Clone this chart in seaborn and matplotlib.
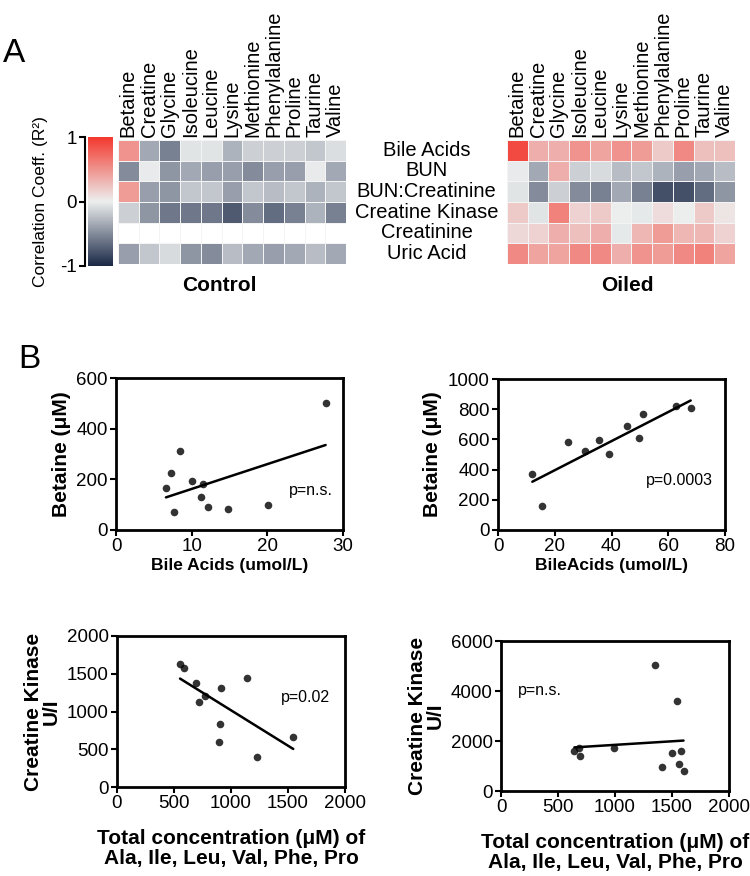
import numpy as np
import pandas as pd
import matplotlib
matplotlib.use('Agg')
import matplotlib.pyplot as plt
from matplotlib.colors import LinearSegmentedColormap
import seaborn as sns

# heatmap data (R values)
amino_acids = ['Betaine', 'Creatine', 'Glycine', 'Isoleucine', 'Leucine', 'Lysine',
               'Methionine', 'Phenylalanine', 'Proline', 'Taurine', 'Valine']
clinical = ['Bile Acids', 'BUN', 'BUN:Creatinine', 'Creatine Kinase', 'Creatinine', 'Uric Acid']

control_r = [
    [0.50, -0.35, -0.55, -0.05, -0.05, -0.30, -0.15, -0.15, -0.15, -0.20, -0.08],
    [-0.50, -0.02, -0.45, -0.35, -0.40, -0.40, -0.50, -0.40, -0.40, -0.02, -0.35],
    [0.45, -0.40, -0.45, -0.20, -0.20, -0.40, -0.20, -0.25, -0.20, -0.30, -0.20],
    [-0.15, -0.45, -0.60, -0.60, -0.60, -0.75, -0.50, -0.65, -0.55, -0.30, -0.55],
    [np.nan] * 11,
    [-0.40, -0.20, -0.10, -0.45, -0.50, -0.25, -0.35, -0.40, -0.35, -0.25, -0.35],
]
oiled_r = [
    [0.90, 0.35, 0.35, 0.50, 0.40, 0.50, 0.45, 0.20, 0.55, 0.25, 0.25],
    [-0.02, -0.35, 0.35, -0.15, -0.10, -0.25, -0.20, -0.30, -0.40, -0.35, -0.25],
    [-0.05, -0.50, -0.15, -0.50, -0.55, -0.35, -0.55, -0.80, -0.80, -0.65, -0.45],
    [0.20, -0.05, 0.60, 0.15, 0.20, 0.00, -0.03, 0.10, 0.00, 0.20, 0.05],
    [0.12, 0.15, 0.35, 0.25, 0.35, -0.03, 0.30, 0.45, 0.30, 0.30, 0.15],
    [0.55, 0.40, 0.40, 0.55, 0.55, 0.35, 0.50, 0.45, 0.55, 0.60, 0.40],
]

# scatter data
bile_control = [6.6, 7.3, 7.7, 8.4, 10.0, 11.5, 11.2, 12.2, 14.8, 20.1, 27.7]
betaine_control = [164, 224, 72, 313, 193, 180, 130, 92, 82, 99, 503]
bile_oiled = [12.1, 15.5, 24.7, 30.5, 35.6, 39.2, 45.6, 49.6, 51.2, 62.9, 67.9]
betaine_oiled = [369, 159, 582, 524, 597, 502, 686, 608, 770, 823, 805]
aa_total_control = [553, 591, 697, 717, 776, 908, 902, 896, 1136, 1224, 1546]
ck_control = [1634, 1572, 1382, 1126, 1205, 1311, 839, 592, 1444, 397, 667]
aa_total_oiled = [644, 685, 694, 994, 1353, 1408, 1504, 1548, 1563, 1583, 1601]
ck_oiled = [1600, 1720, 1400, 1720, 5053, 947, 1533, 3613, 1080, 1587, 787]

sns.set_style('white')
plt.rcParams['font.family'] = ['Liberation Sans', 'DejaVu Sans']
plt.rcParams.update({'text.color': 'black', 'axes.labelcolor': 'black',
                     'xtick.color': 'black', 'ytick.color': 'black'})

W, H = 750, 876
fig = plt.figure(figsize=(W / 100, H / 100), dpi=100)


def box(l, t, r, b):
    return [l / W, 1 - b / H, (r - l) / W, (b - t) / H]


cmap = LinearSegmentedColormap.from_list('rwn', ['#1b2947', '#eceeee', '#f3382e'])

ax_c = fig.add_axes(box(118, 140, 346, 264))
ax_o = fig.add_axes(box(507, 140, 735, 264))
cax = fig.add_axes(box(88, 137, 113, 266))

df_c = pd.DataFrame(control_r, index=clinical, columns=amino_acids)
df_o = pd.DataFrame(oiled_r, index=clinical, columns=amino_acids)

sns.heatmap(df_c, ax=ax_c, cmap=cmap, vmin=-1, vmax=1, cbar=True, cbar_ax=cax,
            linewidths=0.6, linecolor='#f4f4f4')
sns.heatmap(df_o, ax=ax_o, cmap=cmap, vmin=-1, vmax=1, cbar=False,
            linewidths=0.6, linecolor='#f4f4f4')

for ax in (ax_c, ax_o):
    ax.xaxis.tick_top()
    ax.set_xticklabels(amino_acids, rotation=90, fontsize=14.5)
    ax.tick_params(axis='x', length=0, pad=2)
    ax.set_xlabel('')
    ax.set_ylabel('')

ax_c.set_yticks([])
ax_o.set_yticklabels(clinical, rotation=0, ha='center', fontsize=14.5)
ax_o.tick_params(axis='y', length=0, pad=58)

# colorbar on the left
cb = ax_c.collections[0].colorbar
cb.outline.set_visible(False)
cax.yaxis.set_ticks_position('left')
cax.yaxis.set_label_position('left')
cax.spines['left'].set_visible(True)
cax.spines['left'].set_color('black')
cax.spines['left'].set_linewidth(1.5)
cax.spines['left'].set_position(('outward', 2))
cb.set_ticks([-1, 0, 1])
cb.set_ticklabels(['-1', '0', '1'])
cax.tick_params(axis='y', left=True, length=4, width=1.5, labelsize=13.5, pad=2)
cax.set_ylabel('Correlation Coeff. (R²)', fontsize=12.5, labelpad=9)

fig.text(219 / W, 1 - 285 / H, 'Control', fontsize=15, fontweight='bold', ha='center', va='center')
fig.text(627 / W, 1 - 285 / H, 'Oiled', fontsize=15, fontweight='bold', ha='center', va='center')
fig.text(14 / W, 1 - 54 / H, 'A', fontsize=24, ha='center', va='center')
fig.text(29 / W, 1 - 360 / H, 'B', fontsize=24, ha='center', va='center')

# scatter panels
ax1 = fig.add_axes(box(116, 378, 343, 530))
ax2 = fig.add_axes(box(498, 379, 725, 530))
ax3 = fig.add_axes(box(117, 636, 345, 787))
ax4 = fig.add_axes(box(501, 641, 729, 791))

panels = [
    (ax1, bile_control, betaine_control, (0, 30), [0, 10, 20, 30], (0, 600), [0, 200, 400, 600]),
    (ax2, bile_oiled, betaine_oiled, (0, 80), [0, 20, 40, 60, 80], (0, 1000), [0, 200, 400, 600, 800, 1000]),
    (ax3, aa_total_control, ck_control, (0, 2000), [0, 500, 1000, 1500, 2000], (0, 2000), [0, 500, 1000, 1500, 2000]),
    (ax4, aa_total_oiled, ck_oiled, (0, 2000), [0, 500, 1000, 1500, 2000], (0, 6000), [0, 2000, 4000, 6000]),
]
for ax, x, y, xl, xt, yl, yt in panels:
    sns.regplot(x=x, y=y, ax=ax, ci=None, color='black',
                scatter_kws={'s': 30, 'linewidths': 0},
                line_kws={'linewidth': 1.8})
    ax.set_xlim(*xl)
    ax.set_ylim(*yl)
    ax.set_xticks(xt)
    ax.set_yticks(yt)
    for s in ax.spines.values():
        s.set_visible(True)
        s.set_color('black')
        s.set_linewidth(2)
    ax.tick_params(bottom=True, left=True, direction='out', length=4, width=1.5,
                   labelsize=13.5, pad=2, colors='black')

ylab = dict(fontsize=15, fontweight='bold')
ax1.set_ylabel('Betaine (μM)', **ylab)
ax1.set_xlabel('Bile Acids (umol/L)', labelpad=2, fontsize=12.5, fontweight='bold')
ax2.set_ylabel('Betaine (μM)', **ylab)
ax2.set_xlabel('BileAcids (umol/L)', labelpad=2, fontsize=12.5, fontweight='bold')
for ax in (ax3, ax4):
    ax.set_ylabel('Creatine Kinase\nU/I', linespacing=0.95, **ylab)
    ax.set_xlabel('Total concentration (μM) of\nAla, Ile, Leu, Val, Phe, Pro',
                  labelpad=12, linespacing=1.05, fontsize=15, fontweight='bold')

ax1.text(0.956, 0.263, 'p=n.s.', transform=ax1.transAxes, ha='right', va='center', fontsize=11.5)
ax2.text(0.947, 0.331, 'p=0.0003', transform=ax2.transAxes, ha='right', va='center', fontsize=11.5)
ax3.text(0.934, 0.596, 'p=0.02', transform=ax3.transAxes, ha='right', va='center', fontsize=11.5)
ax4.text(0.075, 0.673, 'p=n.s.', transform=ax4.transAxes, ha='left', va='center', fontsize=11.5)

fig.savefig('out.png', dpi=100)
